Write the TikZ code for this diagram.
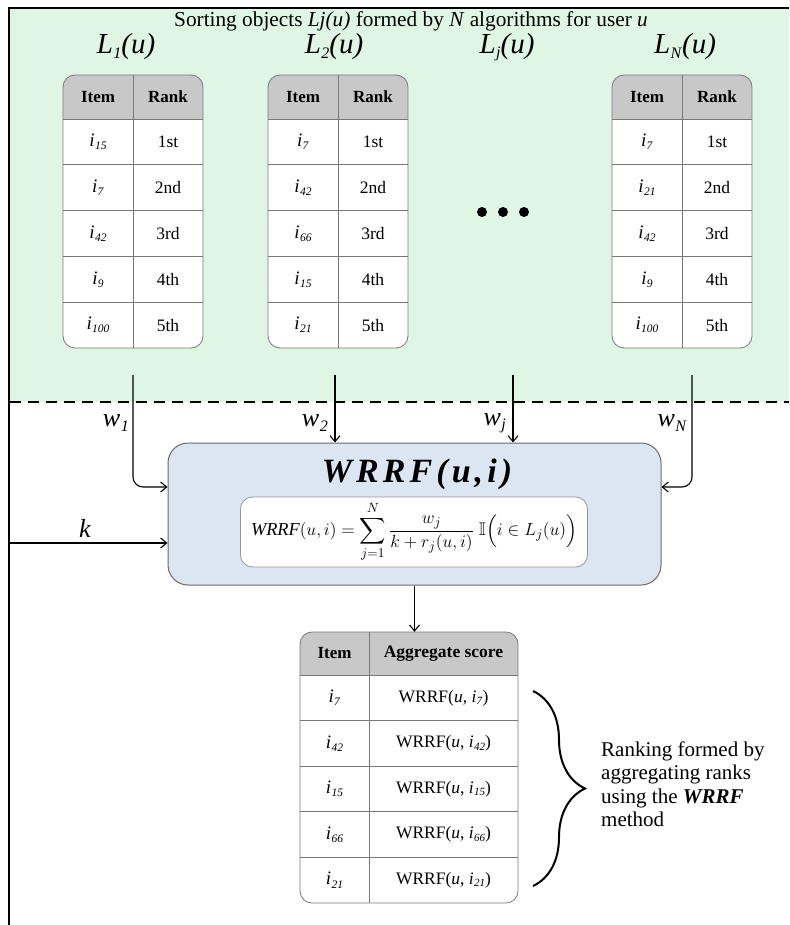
\documentclass[tikz,border=0pt]{standalone}
\usepackage{amsmath,amssymb}
\usepackage{graphicx}
\usepackage{fontspec}
\setmainfont{Liberation Serif}
\usetikzlibrary{arrows.meta,decorations.pathreplacing,calc}
\definecolor{greenbg}{RGB}{224,246,229}
\definecolor{hdrgrey}{RGB}{200,200,200}
\definecolor{bordergrey}{RGB}{120,120,120}
\definecolor{boxblue}{RGB}{220,230,242}
\definecolor{boxborder}{RGB}{105,105,105}
\newcommand{\ii}[1]{\textit{i}\kern0.3pt\raisebox{-0.35ex}{\fontsize{11.5}{11.5}\selectfont\textit{#1}}}
\newcommand{\iis}[1]{\textit{i}\kern0.3pt\raisebox{-0.3ex}{\fontsize{11}{11}\selectfont\textit{#1}}}
\newcommand{\lsub}[3]{\textit{#1}\kern0.5pt\raisebox{-0.35ex}{\fontsize{16}{16}\selectfont\textit{#2}}\textit{#3}}
\newcommand{\rtab}[7]{%
 \begin{scope}[shift={(#2,75)}]
  \begin{scope}
   \clip[rounded corners=12pt] (0,0) rectangle (140,273);
   \fill[white] (0,0) rectangle (140,273);
   \fill[hdrgrey] (0,0) rectangle (140,44);
  \end{scope}
  \foreach \k in {0,...,4} \draw[tline] (0,{44+45.8*\k}) -- (140,{44+45.8*\k});
  \draw[tline] (70,0) -- (70,273);
  \draw[tline, rounded corners=12pt] (0,0) rectangle (140,273);
  \node[inner sep=0, minimum width=140pt, minimum height=273pt] (#1) at (70,136.5) {};
  \node[hdrtxt] at (35,22) {Item};
  \node[hdrtxt] at (105,22) {Rank};
  \node[itemtxt] at (35,{44+45.8*0.5}) {\ii{#3}};
  \node[itemtxt] at (35,{44+45.8*1.5}) {\ii{#4}};
  \node[itemtxt] at (35,{44+45.8*2.5}) {\ii{#5}};
  \node[itemtxt] at (35,{44+45.8*3.5}) {\ii{#6}};
  \node[itemtxt] at (35,{44+45.8*4.5}) {\ii{#7}};
  \foreach \r [count=\c from 0] in {1st,2nd,3rd,4th,5th}
    \node[celltxt] at (105,{44+45.8*(\c+0.5)}) {\r};
 \end{scope}}
\begin{document}
\begin{tikzpicture}[x=1pt,y=-1pt,
  tline/.style={draw=bordergrey, line width=0.8pt},
  arr/.style={-{Straight Barb[length=6pt,width=10pt]}, line width=1.1pt},
  hdrtxt/.style={font=\fontsize{17}{19}\selectfont\bfseries},
  celltxt/.style={font=\fontsize{17.5}{19}\selectfont},
  itemtxt/.style={font=\fontsize{19}{21}\selectfont},
  bigital/.style={font=\fontsize{29}{32}\selectfont},
  wlab/.style={font=\fontsize{26}{28}\selectfont, anchor=east, inner sep=0pt}]
\useasboundingbox (0,0) rectangle (789,925);
% background and frame
\fill[greenbg] (9,8) rectangle (789,402);
\draw[line width=2pt] (789,8) -- (9,8) -- (9,925);
\draw[dash pattern=on 11pt off 7pt, line width=1.3pt] (10,402) -- (789,402);
% title
\node[font=\fontsize{21.3}{24}\selectfont, anchor=base, inner sep=1pt] (title) at (411,27) {Sorting objects \textit{Lj(u)} formed by \textit{N} algorithms for user \textit{u}};
% list labels
\node[bigital] (l1) at (126,47) {\lsub{L}{1}{(u)}};
\node[bigital] (l2) at (334,47) {\lsub{L}{2}{(u)}};
\node[bigital] (lj) at (507,47) {\lsub{L}{j}{(u)}};
\node[bigital] (ln) at (685,47) {\lsub{L}{N}{(u)}};
% tables
\rtab{t1}{63}{15}{7}{42}{9}{100}
\rtab{t2}{268}{7}{42}{66}{15}{21}
\rtab{tn}{612}{7}{21}{42}{9}{100}
% dots
\foreach \xx [count=\d] in {482,503,524} \fill (\xx,212) circle (5pt) coordinate (dot\d);
% main box
\node[draw=boxborder, fill=boxblue, rounded corners=20pt, line width=1pt, minimum width=493pt, minimum height=142pt, inner sep=0] (box) at (414.5,514) {};
\node[font=\fontsize{34}{36}\selectfont\bfseries\itshape\addfontfeature{LetterSpace=12}, inner sep=0pt] (boxtitle) at (417,474) {WRRF(u,i)};
\node[draw=boxborder!70, fill=white, rounded corners=12pt, line width=0.8pt, minimum width=347pt, minimum height=70pt, font=\fontsize{15}{17}\selectfont] (formula) at (414,532)
 {\scalebox{1.22}{$\displaystyle \mathit{WRRF}(u,i)=\sum_{j=1}^{N}\frac{w_j}{k+r_j(u,i)}\;\mathbb{I}\Bigl(i\in L_j(u)\Bigr)$}};
% weight connectors
\coordinate (c1) at (133,375);
\coordinate (c2) at (335,375);
\coordinate (cj) at (513,375);
\coordinate (cn) at (692,375);
\coordinate (kstart) at (10,543);
\draw[arr, rounded corners=10pt] (c1) |- ([yshift=27pt]box.west);
\draw[arr] (c2) -- (c2 |- box.north);
\draw[arr] (cj) -- (cj |- box.north);
\draw[arr, rounded corners=10pt] (cn) |- ([yshift=27pt]box.east);
\draw[arr] (kstart) -- (kstart -| box.west);
\node[wlab] (w1) at (129,423) {\lsub{w}{1}{}};
\node[wlab] (w2) at (328,423) {\lsub{w}{2}{}};
\node[wlab] (wj) at (506,423) {\lsub{w}{j}{}};
\node[wlab] (wn) at (687,423) {\lsub{w}{N}{}};
\node[font=\fontsize{26}{28}\selectfont] (klab) at (85,528) {\textit{k}};
% bottom table
\begin{scope}[shift={(300,632)}]
  \begin{scope}
   \clip[rounded corners=12pt] (0,0) rectangle (218,271);
   \fill[white] (0,0) rectangle (218,271);
   \fill[hdrgrey] (0,0) rectangle (218,43);
  \end{scope}
  \foreach \k in {0,...,4} \draw[tline] (0,{43+45.6*\k}) -- (218,{43+45.6*\k});
  \draw[tline] (69,0) -- (69,271);
  \draw[tline, rounded corners=12pt] (0,0) rectangle (218,271);
  \node[inner sep=0, minimum width=218pt, minimum height=271pt] (btab) at (109,135.5) {};
  \node[hdrtxt] at (34.5,21.5) {Item};
  \node[hdrtxt, font=\fontsize{17.5}{19}\selectfont\bfseries] at (143.5,21.5) {Aggregate score};
  \foreach \itm [count=\c from 0] in {7,42,15,66,21} {
    \node[itemtxt] at (34.5,{43+45.6*(\c+0.5)}) {\ii{\itm}};
    \node[celltxt] at (143.5,{43+45.6*(\c+0.5)}) {WRRF(\textit{u}, \iis{\itm})};
  }
\end{scope}
\draw[arr] (box.south) -- (box.south |- btab.north);
% brace and explanation
\coordinate (bt) at (533,691);
\coordinate (bb) at (533,886);
\draw[decorate, decoration={brace, amplitude=52pt}, line width=2pt] (bt) -- (bb);
\node[anchor=west, align=left, inner sep=0pt, font=\fontsize{21}{23.5}\selectfont] (rtext) at (601,784)
 {Ranking formed by\\aggregating ranks\\using the \textbf{\textit{WRRF}}\\method};
\end{tikzpicture}
\end{document}
